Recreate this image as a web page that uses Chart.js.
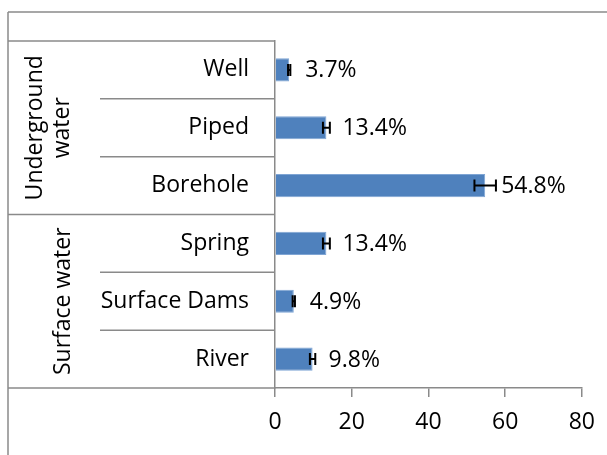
<!DOCTYPE html>
<html>
<head>
<meta charset="utf-8">
<script src="https://cdn.jsdelivr.net/npm/chart.js@4/dist/chart.umd.min.js"></script>
<style>
  html, body { margin: 0; padding: 0; background: #fff; }
  #wrap { width: 607px; height: 455px; position: relative; }
</style>
</head>
<body>
<div id="wrap"><canvas id="chart"></canvas></div>
<script>
const categories = ['Well', 'Piped', 'Borehole', 'Spring', 'Surface Dams', 'River'];
const values = [3.7, 13.4, 54.8, 13.4, 4.9, 9.8];
const errors = [0.3, 0.9, 2.8, 0.9, 0.3, 0.7];
const xTicks = [0, 20, 40, 60, 80];
const groupNames = [['Underground', 'water'], ['Surface water']];
const groupRanges = [[0, 2], [3, 5]];

const LINE = '#8a8a8a';
const TEXT = '#000';
const FONT = '"Open Sans", sans-serif';

Chart.defaults.font.family = FONT;
Chart.defaults.font.size = 23;
Chart.defaults.color = TEXT;

// row lines, group labels, outer frame
const tablePlugin = {
  id: 'table',
  afterDraw(chart) {
    const { ctx, chartArea, scales: { y } } = chart;
    const left = 8, inner = 100, axisX = chartArea.left;
    const pix = i => y.getPixelForValue(i);
    const bound = i => (pix(i) + pix(i + 1)) / 2;
    ctx.save();
    ctx.strokeStyle = LINE;
    ctx.lineWidth = 1.5;
    const hline = (x0, x1, yy) => { ctx.beginPath(); ctx.moveTo(x0, yy); ctx.lineTo(x1, yy); ctx.stroke(); };
    // frame
    hline(left, chart.width, 12);
    ctx.beginPath(); ctx.moveTo(left, 12); ctx.lineTo(left, chart.height); ctx.stroke();
    hline(left, axisX, chartArea.top);
    hline(left, axisX, chartArea.bottom);
    for (let i = 0; i < categories.length - 1; i++) {
      const isGroupEnd = groupRanges.some(r => r[1] === i);
      hline(isGroupEnd ? left : inner, axisX, bound(i));
    }
    // group labels (rotated)
    const baselines = [[41.5, 68.5], [70]];
    ctx.fillStyle = TEXT;
    ctx.font = '23px ' + FONT;
    ctx.textAlign = 'center';
    ctx.textBaseline = 'alphabetic';
    groupNames.forEach((lines, g) => {
      const [a, b] = groupRanges[g];
      const cy = (pix(a) + pix(b)) / 2;
      lines.forEach((txt, k) => {
        ctx.save();
        ctx.translate(baselines[g][k], cy);
        ctx.rotate(-Math.PI / 2);
        ctx.fillText(txt, 0, 0);
        ctx.restore();
      });
    });
    ctx.restore();
  }
};

// error bars + value labels
const barExtras = {
  id: 'barExtras',
  afterDatasetsDraw(chart) {
    const { ctx, scales: { x } } = chart;
    const meta = chart.getDatasetMeta(0);
    ctx.save();
    meta.data.forEach((bar, i) => {
      const lo = x.getPixelForValue(values[i] - errors[i]);
      const hi = x.getPixelForValue(values[i] + errors[i]);
      ctx.strokeStyle = '#000';
      ctx.lineWidth = 2;
      ctx.beginPath();
      ctx.moveTo(lo, bar.y); ctx.lineTo(hi, bar.y);
      ctx.moveTo(lo, bar.y - 6); ctx.lineTo(lo, bar.y + 6);
      ctx.moveTo(hi, bar.y - 6); ctx.lineTo(hi, bar.y + 6);
      ctx.stroke();
      ctx.fillStyle = TEXT;
      ctx.font = '23px ' + FONT;
      ctx.textAlign = 'left';
      ctx.textBaseline = 'middle';
      ctx.fillText(values[i].toFixed(1) + '%', bar.x + 16, bar.y + 1);
    });
    ctx.restore();
  }
};

new Chart(document.getElementById('chart'), {
  type: 'bar',
  data: {
    labels: categories,
    datasets: [{
      data: values,
      backgroundColor: '#4F81BD',
      borderColor: '#7FA5D4',
      borderWidth: 1,
      barPercentage: 0.4,
      categoryPercentage: 1
    }]
  },
  options: {
    indexAxis: 'y',
    responsive: true,
    maintainAspectRatio: false,
    animation: false,
    layout: { padding: { left: 8, top: 41, right: 25, bottom: 0 } },
    plugins: { legend: { display: false }, tooltip: { enabled: false } },
    scales: {
      y: {
        grid: { display: false, drawTicks: false },
        border: { display: true, color: LINE, width: 1.5 },
        ticks: { padding: 26, color: TEXT },
        afterFit: s => { s.width = 267; }
      },
      x: {
        min: xTicks[0],
        max: xTicks[xTicks.length - 1],
        afterBuildTicks: s => { s.ticks = xTicks.map(v => ({ value: v })); },
        grid: { display: true, drawOnChartArea: false, drawTicks: true, tickLength: 9, color: LINE, lineWidth: 1.5 },
        border: { display: true, color: LINE, width: 1.5 },
        ticks: { padding: 12, color: TEXT, maxRotation: 0 },
        afterFit: s => { s.height = 67; }
      }
    }
  },
  plugins: [tablePlugin, barExtras]
});
</script>
</body>
</html>
